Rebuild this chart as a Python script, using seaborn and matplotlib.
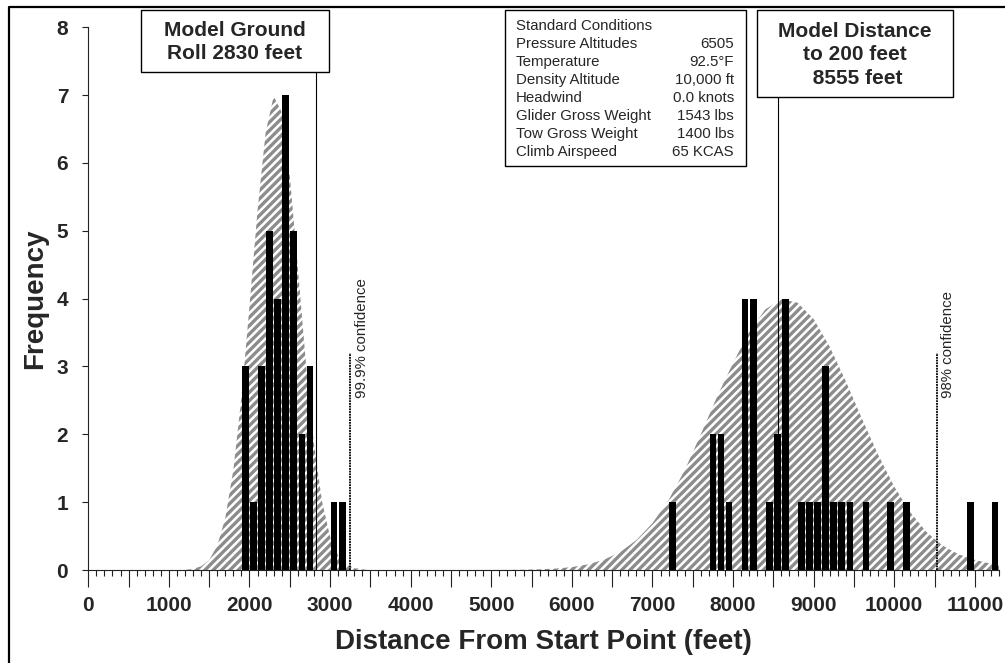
import numpy as np
import pandas as pd
import matplotlib
matplotlib.use("Agg")
import matplotlib.pyplot as plt
from matplotlib.ticker import MultipleLocator, FuncFormatter
from matplotlib.patches import Rectangle
from matplotlib.lines import Line2D
import seaborn as sns

# ---------------- data ----------------
# histogram bars (bin centres, feet) and frequencies
ground_centers = [1950, 2050, 2150, 2250, 2350, 2450, 2550, 2650, 2750, 3050, 3150]
ground_counts = [3, 1, 3, 5, 4, 7, 5, 2, 3, 1, 1]

dist_centers = [7250, 7750, 7850, 7950, 8150, 8250, 8450, 8550, 8650, 8850, 8950,
                9050, 9150, 9250, 9350, 9450, 9650, 9950, 10150, 10950, 11250]
dist_counts = [1, 2, 2, 1, 4, 4, 1, 2, 4, 1, 1,
               1, 3, 1, 1, 1, 1, 1, 1, 1, 1]

# hatched distribution curves
ground_curve_x = [1200, 1300, 1400, 1500, 1600, 1700, 1800, 1900, 2000, 2100, 2200, 2300,
                  2400, 2500, 2600, 2700, 2800, 2900, 3000, 3100, 3200, 3300, 3400, 3500]
ground_curve_y = [0.0, 0.018, 0.054, 0.147, 0.356, 0.769, 1.48, 2.54, 3.887, 5.30, 6.444, 6.984,
                  6.747, 5.811, 4.463, 3.052, 1.862, 1.013, 0.491, 0.212, 0.082, 0.028, 0.009, 0.0]

dist_curve_x = [4800, 5000, 5200, 5400, 5600, 5800, 6000, 6200, 6400, 6600, 6800, 7000,
                7200, 7400, 7600, 7800, 8000, 8200, 8400, 8600, 8800, 9000, 9200, 9400,
                9600, 9800, 10000, 10200, 10400, 10600, 10800, 11000, 11200, 11300]
dist_curve_y = [0.0, 0.001, 0.002, 0.004, 0.010, 0.021, 0.043, 0.083, 0.152, 0.265, 0.44, 0.69,
                1.03, 1.47, 2.0, 2.55, 3.05, 3.51, 3.84, 3.99, 3.94, 3.70, 3.29, 2.78,
                2.23, 1.70, 1.23, 0.85, 0.56, 0.36, 0.23, 0.15, 0.09, 0.07]

model_ground_roll = 2830
model_distance = 8555
conf_999 = 3250
conf_98 = 10530
conf_top = 3.2
ground_box_bottom = 7.34
dist_box_bottom = 6.97

info_labels = ["Standard Conditions", "Pressure Altitudes", "Temperature", "Density Altitude",
               "Headwind", "Glider Gross Weight", "Tow Gross Weight", "Climb Airspeed"]
info_values = ["", "6505", "92.5\u00b0F", "10,000 ft", "0.0 knots", "1543 lbs", "1400 lbs", "65 KCAS"]

# ---------------- style ----------------
sns.set_style("white")
plt.rcParams['font.family'] = ['Liberation Sans', 'DejaVu Sans']
plt.rcParams['hatch.linewidth'] = 2.4
plt.rcParams['hatch.color'] = '#8c8c8c'

W, H = 1005, 663
fig = plt.figure(figsize=(W / 100, H / 100), dpi=100)

def fx(px):
    return px / W

def fy(py):
    return 1 - py / H

ax = fig.add_axes([fx(88.3), fy(570), (999 - 88.3) / W, (570 - 27.2) / H])

# hatched curves
for cx, cy in [(ground_curve_x, ground_curve_y), (dist_curve_x, dist_curve_y)]:
    ax.fill_between(cx, 0, cy, facecolor='none', edgecolor='#8c8c8c', hatch='////',
                    linewidth=0, zorder=1)

# bars with seaborn
bars = pd.DataFrame({
    "center": ground_centers + dist_centers,
    "count": ground_counts + dist_counts,
})
sns.histplot(data=bars, x="center", weights="count", binwidth=100, binrange=(0, 11300),
             shrink=0.83, color='black', alpha=1, linewidth=0, ax=ax, zorder=3)

ax.set_xlim(0, 11300)
ax.set_ylim(0, 8)

# model lines
ax.vlines([model_ground_roll], 0, ground_box_bottom, color='black', linewidth=0.8, zorder=4)
ax.vlines([model_distance], 0, dist_box_bottom, color='black', linewidth=0.8, zorder=4)

# confidence lines
for xv, lab in [(conf_999, "99.9% confidence"), (conf_98, "98% confidence")]:
    ax.vlines([xv], 0, conf_top, color='black', linewidth=1.3, linestyles=[(0, (1, 0.5))], zorder=4)
    ax.text(xv + 140, 2.53, lab, rotation=90, ha='center', va='bottom', fontsize=10.8)

# axes styling
for s in ['top', 'right']:
    ax.spines[s].set_visible(False)
for s in ['left', 'bottom']:
    ax.spines[s].set_color('#222222')
    ax.spines[s].set_linewidth(0.8)

ax.xaxis.set_major_locator(MultipleLocator(500))
ax.xaxis.set_minor_locator(MultipleLocator(100))
ax.xaxis.set_major_formatter(FuncFormatter(lambda v, p: f"{int(round(v))}" if int(round(v)) % 1000 == 0 else ""))
ax.yaxis.set_major_locator(MultipleLocator(1))
ax.tick_params(which='both', left=True, bottom=True)
ax.tick_params(axis='x', which='major', direction='out', length=12, width=0.8,
               color='#222222', labelsize=15, pad=7)
ax.tick_params(axis='x', which='minor', direction='out', length=4.5, width=0.8,
               color='#222222')
ax.tick_params(axis='y', which='major', direction='out', length=4.5, width=0.8,
               color='#222222', labelsize=15, pad=10)
for t in ax.get_xticklabels() + ax.get_yticklabels():
    t.set_fontweight('bold')

ax.set_xlabel("Distance From Start Point (feet)", fontsize=20, fontweight='bold', labelpad=10)
ax.set_ylabel("Frequency", fontsize=20, fontweight='bold', labelpad=6)

# annotation boxes (figure level)
def box(l, t, r, b):
    fig.add_artist(Rectangle((fx(l), fy(b)), (r - l) / W, (b - t) / H, transform=fig.transFigure,
                             facecolor='white', edgecolor='black', linewidth=1, zorder=5))

box(141, 10, 329, 72)
fig.text(fx(235), fy(42), "Model Ground\nRoll 2830 feet", ha='center', va='center',
         fontsize=15, fontweight='bold', linespacing=1.3, zorder=6)

box(757, 10, 953, 97)
fig.text(fx(855), fy(55), "Model Distance\nto 200 feet\n 8555 feet", ha='center', va='center',
         fontsize=15, fontweight='bold', linespacing=1.3, zorder=6)

box(505, 10, 746, 166)
for i, (lab, val) in enumerate(zip(info_labels, info_values)):
    yy = 26 + i * 18
    fig.text(fx(516), fy(yy), lab, ha='left', va='center', fontsize=10.8, zorder=6)
    if val:
        fig.text(fx(734), fy(yy), val, ha='right', va='center', fontsize=10.8, zorder=6)

# outer frame (left and top edges visible)
fig.add_artist(Line2D([fx(9), fx(9), fx(1005)], [fy(663), fy(7), fy(7)], transform=fig.transFigure,
                      color='black', linewidth=1.6, zorder=10))

fig.savefig("out.png", dpi=100)
